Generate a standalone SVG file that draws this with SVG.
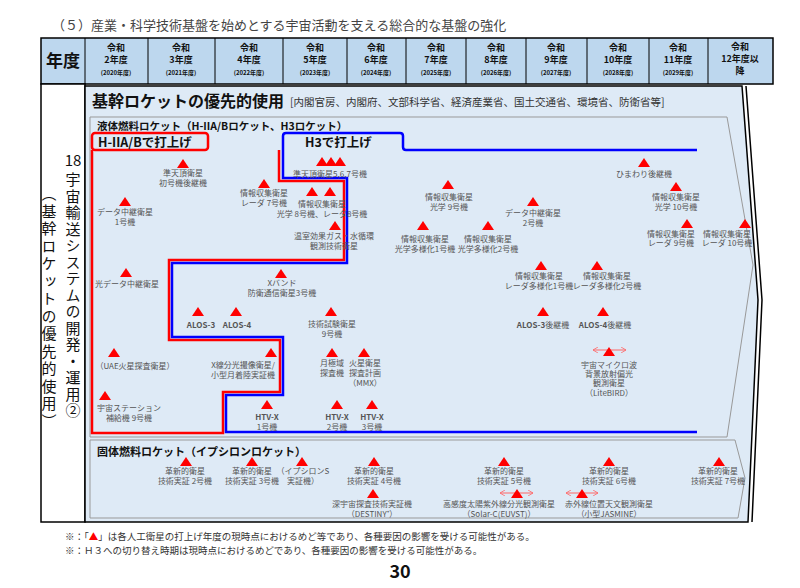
<svg xmlns="http://www.w3.org/2000/svg" xmlns:xlink="http://www.w3.org/1999/xlink" width="800" height="588" viewBox="0 0 800 588">
<style>
text{font-family:"Noto Sans CJK JP","Noto Sans",sans-serif;}
.n{font-size:8px;fill:#555;text-anchor:middle;}
.h{font-size:9px;font-weight:bold;fill:#111;text-anchor:middle;}
.hs{font-size:6px;font-weight:bold;fill:#111;text-anchor:middle;}
.red{fill:none;stroke:#f00;stroke-width:2.5;}
.blue{fill:none;stroke:#00f;stroke-width:2.5;}
.arr{fill:none;stroke:#f66;stroke-width:1;}
.ft{font-size:9.5px;fill:#333;}
</style>
<defs>
<polygon id="tri" points="-6,9 0,0 6,9" fill="#f00"/>
<marker id="ah" markerWidth="6" markerHeight="6" refX="5" refY="3" orient="auto-start-reverse"><path d="M0,0 L5,3 L0,6" fill="none" stroke="#f66" stroke-width="0.8"/></marker>
</defs>
<rect width="800" height="588" fill="#fff"/>
<text x="52" y="30" font-size="13" fill="#444">（５）産業・科学技術基盤を始めとする宇宙活動を支える総合的な基盤の強化</text>
<g id="header">
<rect x="41" y="38" width="732" height="46" fill="#BDD7EE" stroke="#000" stroke-width="1.5"/>
<g stroke="#000" stroke-width="1">
<line x1="85" y1="38" x2="85" y2="84"/><line x1="148" y1="38" x2="148" y2="84"/><line x1="215" y1="38" x2="215" y2="84"/><line x1="283" y1="38" x2="283" y2="84"/><line x1="347" y1="38" x2="347" y2="84"/><line x1="406" y1="38" x2="406" y2="84"/><line x1="466" y1="38" x2="466" y2="84"/><line x1="526" y1="38" x2="526" y2="84"/><line x1="587" y1="38" x2="587" y2="84"/><line x1="649" y1="38" x2="649" y2="84"/><line x1="708" y1="38" x2="708" y2="84"/>
</g>
<text x="63" y="67" font-size="17" font-weight="bold" text-anchor="middle" fill="#111">年度</text>
<text class="h" x="116" y="51">令和</text><text class="h" x="116" y="63">2年度</text><text class="hs" x="116" y="75">(2020年度)</text>
<text class="h" x="181" y="51">令和</text><text class="h" x="181" y="63">3年度</text><text class="hs" x="181" y="75">(2021年度)</text>
<text class="h" x="249" y="51">令和</text><text class="h" x="249" y="63">4年度</text><text class="hs" x="249" y="75">(2022年度)</text>
<text class="h" x="315" y="51">令和</text><text class="h" x="315" y="63">5年度</text><text class="hs" x="315" y="75">(2023年度)</text>
<text class="h" x="376" y="51">令和</text><text class="h" x="376" y="63">6年度</text><text class="hs" x="376" y="75">(2024年度)</text>
<text class="h" x="436" y="51">令和</text><text class="h" x="436" y="63">7年度</text><text class="hs" x="436" y="75">(2025年度)</text>
<text class="h" x="496" y="51">令和</text><text class="h" x="496" y="63">8年度</text><text class="hs" x="496" y="75">(2026年度)</text>
<text class="h" x="556" y="51">令和</text><text class="h" x="556" y="63">9年度</text><text class="hs" x="556" y="75">(2027年度)</text>
<text class="h" x="618" y="51">令和</text><text class="h" x="618" y="63">10年度</text><text class="hs" x="618" y="75">(2028年度)</text>
<text class="h" x="678" y="51">令和</text><text class="h" x="678" y="63">11年度</text><text class="hs" x="678" y="75">(2029年度)</text>
<text class="h" x="740" y="50">令和</text><text class="h" x="740" y="62">12年度以</text><text class="h" x="740" y="74">降</text>
</g>
<g id="frame">
<rect x="41" y="84" width="44" height="438" fill="#fff" stroke="#000" stroke-width="1.5"/>
<polygon points="85,86 742,86 758,300 748,522 85,522" fill="#DEEAF6" stroke="#000" stroke-width="1.5"/>
<polyline points="746,86 762,300 752,522" fill="none" stroke="#000" stroke-width="1.5"/>
<text x="73" y="166" font-size="15" text-anchor="middle" fill="#111">18</text>
<text x="73" y="172" font-size="15" fill="#111" style="writing-mode:vertical-rl" letter-spacing="1.5">宇宙輸送システムの開発・運用②</text>
<text x="49" y="186" font-size="15" fill="#111" style="writing-mode:vertical-rl" letter-spacing="2.5">（基幹ロケットの優先的使用）</text>
<text x="92" y="107" font-size="16" font-weight="bold" fill="#111">基幹ロケットの優先的使用</text>
<text x="290" y="106" font-size="10.5" fill="#333">[内閣官房、内閣府、文部科学省、経済産業省、国土交通省、環境省、防衛省等]</text>
<polygon points="90,117 727,117 753,265 727,437 90,437" fill="#DEEAF6" stroke="#999" stroke-width="1"/>
<text x="97" y="130" font-size="10.5" font-weight="bold" fill="#111">液体燃料ロケット（H-IIA/Bロケット、H3ロケット）</text>
<polygon points="90,440 735,440 745,478 738,518 90,518" fill="#DEEAF6" stroke="#999" stroke-width="1"/>
<text x="97" y="456" font-size="11" font-weight="bold" fill="#111">固体燃料ロケット（イプシロンロケット）</text>
</g>
<g id="connectors">
<rect x="92" y="133" width="116" height="17" rx="3" class="red"/>
<path class="red" d="M92,150 V433 H223 V392 H280 V340 H169 V260 H344 V181 H279 V150"/>
<path class="blue" d="M283,150 V178 H347 V263 H172 V337 H283 V395 H226 V432 H697"/>
<path class="blue" d="M283,150 V136 Q283,133 286,133 H400 Q403,133 403,136 V147 Q403,150 406,150 H697"/>
<text x="98" y="147" font-size="12.5" font-weight="bold" fill="#111">H-IIA/Bで打上げ</text>
<text x="305" y="147" font-size="12.5" font-weight="bold" fill="#111">H3で打上げ</text>
</g>
<g id="n1"><use xlink:href="#tri" x="183" y="159"/><text class="n" x="183" y="176">準天頂衛星</text><text class="n" x="183" y="186">初号機後継機</text></g>
<g id="n2"><use xlink:href="#tri" x="125" y="197"/><text class="n" x="125" y="215">データ中継衛星</text><text class="n" x="125" y="225">1号機</text></g>
<g id="n3"><use xlink:href="#tri" x="264" y="179"/><text class="n" x="264" y="196">情報収集衛星</text><text class="n" x="264" y="206">レーダ 7号機</text></g>
<g id="n4"><use xlink:href="#tri" x="322" y="157"/><use xlink:href="#tri" x="331" y="157"/><use xlink:href="#tri" x="340" y="157"/><text class="n" x="330" y="177">準天頂衛星5,6,7号機</text></g>
<g id="n5"><use xlink:href="#tri" x="312" y="187"/><use xlink:href="#tri" x="330" y="187"/><text class="n" x="322" y="207">情報収集衛星</text><text class="n" x="322" y="217">光学 8号機、レーダ8号機</text></g>
<g id="n6"><use xlink:href="#tri" x="335" y="221"/><text class="n" x="334" y="239">温室効果ガス・水循環</text><text class="n" x="334" y="249">観測技術衛星</text></g>
<g id="n7"><use xlink:href="#tri" x="126" y="268"/><text class="n" x="127" y="287">光データ中継衛星</text></g>
<g id="n8"><use xlink:href="#tri" x="281" y="269"/><text class="n" x="282" y="286">Xバンド</text><text class="n" x="282" y="296">防衛通信衛星3号機</text></g>
<g id="n9"><use xlink:href="#tri" x="198" y="307"/><text class="n" x="201" y="328" font-weight="bold" fill="#222">ALOS-3</text></g>
<g id="n10"><use xlink:href="#tri" x="236" y="307"/><text class="n" x="237" y="328" font-weight="bold" fill="#222">ALOS-4</text></g>
<g id="n11"><use xlink:href="#tri" x="331" y="307"/><text class="n" x="332" y="327">技術試験衛星</text><text class="n" x="332" y="337">9号機</text></g>
<g id="n12"><use xlink:href="#tri" x="114" y="348"/><text class="n" x="135" y="369">（UAE火星探査衛星）</text></g>
<g id="n13"><use xlink:href="#tri" x="271" y="348"/><text class="n" x="243" y="368">X線分光撮像衛星/</text><text class="n" x="243" y="378">小型月着陸実証機</text></g>
<g id="n14"><use xlink:href="#tri" x="332" y="348"/><text class="n" x="332" y="366">月極域</text><text class="n" x="332" y="376">探査機</text></g>
<g id="n15"><use xlink:href="#tri" x="364" y="348"/><text class="n" x="365" y="366">火星衛星</text><text class="n" x="365" y="376">探査計画</text><text class="n" x="365" y="386">（MMX）</text></g>
<g id="n16"><use xlink:href="#tri" x="105" y="391"/><text class="n" x="129" y="411">宇宙ステーション</text><text class="n" x="129" y="421">補給機 9号機</text></g>
<g id="n17"><use xlink:href="#tri" x="267" y="400"/><text class="n" x="267" y="420" font-weight="bold" fill="#222">HTV-X</text><text class="n" x="267" y="430">1号機</text></g>
<g id="n18"><use xlink:href="#tri" x="337" y="400"/><text class="n" x="337" y="420" font-weight="bold" fill="#222">HTV-X</text><text class="n" x="337" y="430">2号機</text></g>
<g id="n19"><use xlink:href="#tri" x="372" y="400"/><text class="n" x="372" y="420" font-weight="bold" fill="#222">HTV-X</text><text class="n" x="372" y="430">3号機</text></g>
<g id="n20"><use xlink:href="#tri" x="644" y="158"/><text class="n" x="644" y="177">ひまわり後継機</text></g>
<g id="n21"><use xlink:href="#tri" x="448" y="180"/><text class="n" x="449" y="200">情報収集衛星</text><text class="n" x="449" y="210">光学 9号機</text></g>
<g id="n22"><use xlink:href="#tri" x="533" y="197"/><text class="n" x="533" y="216">データ中継衛星</text><text class="n" x="533" y="226">2号機</text></g>
<g id="n23"><use xlink:href="#tri" x="676" y="182"/><text class="n" x="676" y="200">情報収集衛星</text><text class="n" x="676" y="210">光学 10号機</text></g>
<g id="n24"><use xlink:href="#tri" x="423" y="221"/><text class="n" x="425" y="242">情報収集衛星</text><text class="n" x="425" y="252">光学多様化1号機</text></g>
<g id="n25"><use xlink:href="#tri" x="488" y="221"/><text class="n" x="488" y="242">情報収集衛星</text><text class="n" x="488" y="252">光学多様化2号機</text></g>
<g id="n26"><use xlink:href="#tri" x="687" y="219"/><text class="n" x="671" y="237">情報収集衛星</text><text class="n" x="671" y="246">レーダ 9号機</text></g>
<g id="n27"><use xlink:href="#tri" x="745" y="219"/><text class="n" x="727" y="237">情報収集衛星</text><text class="n" x="727" y="246">レーダ 10号機</text></g>
<g id="n28"><use xlink:href="#tri" x="541" y="261"/><text class="n" x="539" y="279">情報収集衛星</text><text class="n" x="539" y="289">レーダ多様化1号機</text></g>
<g id="n29"><use xlink:href="#tri" x="597" y="261"/><text class="n" x="607" y="279">情報収集衛星</text><text class="n" x="607" y="289">レーダ多様化2号機</text></g>
<g id="n30"><use xlink:href="#tri" x="543" y="307"/><text class="n" x="543" y="328" font-weight="bold" fill="#222">ALOS-3<tspan font-weight="normal" fill="#555">後継機</tspan></text></g>
<g id="n31"><use xlink:href="#tri" x="603" y="307"/><text class="n" x="605" y="328" font-weight="bold" fill="#222">ALOS-4<tspan font-weight="normal" fill="#555">後継機</tspan></text></g>
<g id="n32"><line class="arr" x1="593" y1="350" x2="626" y2="350" marker-start="url(#ah)" marker-end="url(#ah)"/><use xlink:href="#tri" x="609" y="347"/><text class="n" x="609" y="368">宇宙マイクロ波</text><text class="n" x="609" y="377">背景放射偏光</text><text class="n" x="609" y="386">観測衛星</text><text class="n" x="609" y="396">（LiteBIRD）</text></g>
<g id="s1"><use xlink:href="#tri" x="186" y="457"/><text class="n" x="185" y="474">革新的衛星</text><text class="n" x="185" y="484">技術実証 2号機</text></g>
<g id="s2"><use xlink:href="#tri" x="252" y="457"/><text class="n" x="252" y="474">革新的衛星</text><text class="n" x="252" y="484">技術実証 3号機</text></g>
<g id="s3"><use xlink:href="#tri" x="302" y="457"/><text class="n" x="303" y="474">（イプシロンS</text><text class="n" x="303" y="484">実証機）</text></g>
<g id="s4"><use xlink:href="#tri" x="374" y="457"/><text class="n" x="374" y="474">革新的衛星</text><text class="n" x="374" y="484">技術実証 4号機</text></g>
<g id="s5"><use xlink:href="#tri" x="373" y="489"/><text class="n" x="372" y="507">深宇宙探査技術実証機</text><text class="n" x="372" y="517">（DESTINY⁺）</text></g>
<g id="s6"><use xlink:href="#tri" x="504" y="457"/><text class="n" x="504" y="474">革新的衛星</text><text class="n" x="504" y="484">技術実証 5号機</text></g>
<g id="s7"><line class="arr" x1="500" y1="493" x2="533" y2="493" marker-start="url(#ah)" marker-end="url(#ah)"/><use xlink:href="#tri" x="517" y="489"/><text class="n" x="499" y="507">高感度太陽紫外線分光観測衛星</text><text class="n" x="499" y="517">（Solar-C(EUVST)）</text></g>
<g id="s8"><use xlink:href="#tri" x="609" y="457"/><text class="n" x="609" y="474">革新的衛星</text><text class="n" x="609" y="484">技術実証 6号機</text></g>
<g id="s9"><line class="arr" x1="566" y1="493" x2="598" y2="493" marker-start="url(#ah)" marker-end="url(#ah)"/><use xlink:href="#tri" x="582" y="489"/><text class="n" x="609" y="507">赤外線位置天文観測衛星</text><text class="n" x="609" y="517">（小型JASMINE）</text></g>
<g id="s10"><use xlink:href="#tri" x="719" y="457"/><text class="n" x="718" y="474">革新的衛星</text><text class="n" x="718" y="484">技術実証 7号機</text></g>
<text class="ft" x="65" y="540">※：「<tspan fill="#f00">▲</tspan>」は各人工衛星の打上げ年度の現時点におけるめど等であり、各種要因の影響を受ける可能性がある。</text>
<text class="ft" x="65" y="554">※：Ｈ３への切り替え時期は現時点におけるめどであり、各種要因の影響を受ける可能性がある。</text>
<text x="400" y="578" font-size="18" font-weight="bold" text-anchor="middle" fill="#111" font-family="'Liberation Sans Narrow','Liberation Sans',sans-serif">30</text>
</svg>
